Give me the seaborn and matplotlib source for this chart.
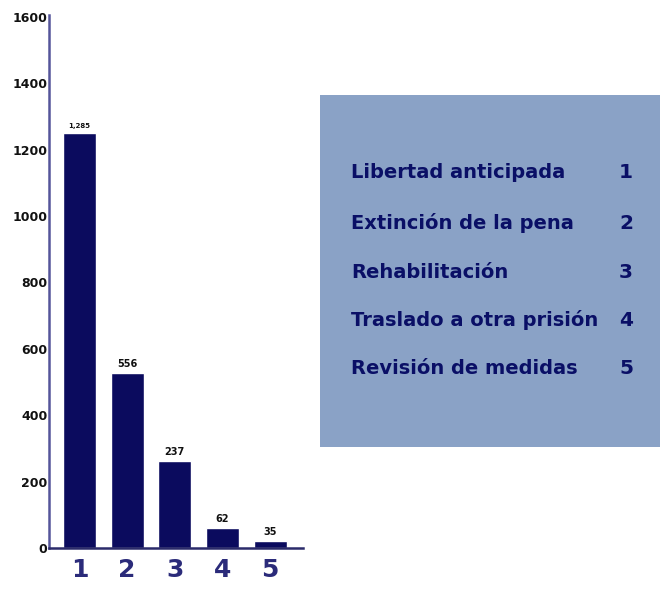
import matplotlib
matplotlib.use("Agg")
import matplotlib.pyplot as plt
import seaborn as sns
import pandas as pd
from matplotlib.patches import Rectangle

categories = ["1", "2", "3", "4", "5"]
values = [1250, 527, 262, 60, 20]
value_labels = ["1,285", "556", "237", "62", "35"]
legend_names = ["Libertad anticipada", "Extinción de la pena", "Rehabilitación",
                "Traslado a otra prisión", "Revisión de medidas"]
yticks = [0, 200, 400, 600, 800, 1000, 1200, 1400, 1600]

sns.set_theme(style="white")
plt.rcParams["font.family"] = ["DejaVu Sans"]

fig = plt.figure(figsize=(6.6, 5.92), dpi=100)
ax = fig.add_axes([49 / 660, 44 / 592, 254 / 660, 533 / 592])

df = pd.DataFrame({"cat": categories, "val": values})
sns.barplot(data=df, x="cat", y="val", color="#0b0b5e", saturation=1,
            width=0.69, ax=ax)

ax.set_xlim(-0.64, 4.69)
ax.set_ylim(0, 1606)
ax.set_yticks(yticks)
ax.set_yticklabels([str(t) for t in yticks], fontsize=9, fontweight="bold",
                   color="#111111")
ax.tick_params(axis="y", length=0, pad=1)
ax.tick_params(axis="x", length=0, pad=7)
for lab in ax.get_xticklabels():
    lab.set_fontsize(18)
    lab.set_fontweight("heavy")
    lab.set_color("#2b2b7a")
ax.set_xlabel("")
ax.set_ylabel("")
for s in ["top", "right"]:
    ax.spines[s].set_visible(False)
ax.spines["left"].set_color("#55559a")
ax.spines["left"].set_linewidth(1.8)
ax.spines["bottom"].set_color("#2b2b6a")
ax.spines["bottom"].set_linewidth(1.8)

for i, (p, lab) in enumerate(zip(ax.patches, value_labels)):
    fs = 5 if i == 0 else 7
    ax.text(p.get_x() + p.get_width() / 2, p.get_height() + 12, lab,
            ha="center", va="bottom", fontsize=fs, fontweight="bold",
            color="#111111")

# legend box
fig.patches.append(Rectangle((320 / 660, 1 - 447 / 592), 340 / 660, 352 / 592,
                             transform=fig.transFigure, facecolor="#8aa2c6",
                             edgecolor="none", zorder=0))
rows_y = [173, 223, 272, 320, 369]
for name, num, yy in zip(legend_names, categories, rows_y):
    fig.text(351 / 660, 1 - yy / 592, name, ha="left", va="center",
             fontsize=14, fontweight="bold", color="#0a0f66",
             family=["DejaVu Sans"])
    fig.text(633 / 660, 1 - yy / 592, num, ha="right", va="center",
             fontsize=14.5, fontweight="bold", color="#0a0f66",
             family=["DejaVu Sans"])

fig.savefig("out.png", dpi=100)
